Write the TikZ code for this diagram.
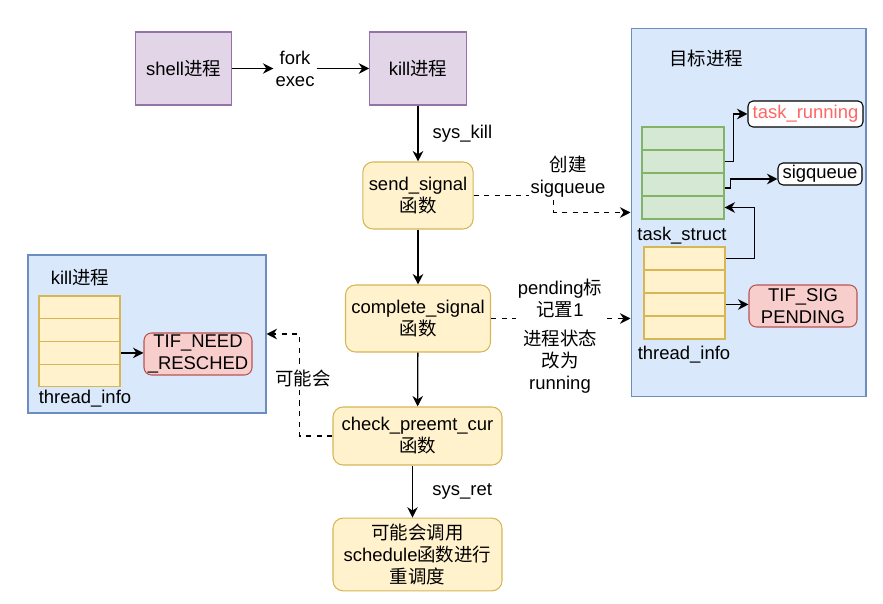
\documentclass[tikz,border=0pt]{standalone}
\usepackage{fontspec}
\setmainfont{Liberation Sans}
\newfontfamily\cjkfont{Noto Sans CJK SC}
\newcommand{\zhtxt}[1]{{\cjkfont #1}}
\usepackage{xcolor}
\definecolor{procfill}{HTML}{E1D5E7}
\definecolor{procline}{HTML}{9673A6}
\definecolor{funcfill}{HTML}{FFF2CC}
\definecolor{funcline}{HTML}{D6B656}
\definecolor{groupfill}{HTML}{DAE8FC}
\definecolor{groupline}{HTML}{6C8EBF}
\definecolor{tsfill}{HTML}{D5E8D4}
\definecolor{tsline}{HTML}{82B366}
\definecolor{flagfill}{HTML}{F8CECC}
\definecolor{flagline}{HTML}{B85450}
\definecolor{runred}{HTML}{FF6666}
\usepackage{tikz}
\usetikzlibrary{positioning,arrows.meta}

\begin{document}
\begin{tikzpicture}[
    x=0.02cm, y=-0.02cm,
    font=\fontsize{10.5}{12.5}\selectfont,
    proc/.style={draw=procline, fill=procfill, minimum width=1.93cm,
                 minimum height=1.46cm, align=center, line width=0.6pt},
    func/.style={draw=funcline, fill=funcfill, rounded corners=2mm,
                 align=center, line width=0.6pt},
    group/.style={draw=groupline, fill=groupfill, line width=0.6pt},
    tscell/.style={draw=tsline, fill=tsfill, minimum width=1.64cm,
                   minimum height=0.46cm, line width=0.6pt},
    ticell/.style={draw=funcline, fill=funcfill, minimum width=1.62cm,
                   minimum height=0.46cm, line width=0.6pt},
    flag/.style={draw=flagline, fill=flagfill, rounded corners=1.5mm,
                 minimum width=2.16cm, minimum height=0.84cm, align=center,
                 line width=0.6pt, inner sep=1pt},
    tag/.style={draw, fill=white, rounded corners=1mm, line width=0.6pt,
                inner sep=1pt},
    lbl/.style={align=center, inner sep=1pt},
    elbl/.style={align=center, fill=white, inner sep=1pt},
    flow/.style={-{Stealth[length=2.1mm, width=2.1mm]}, line width=0.75pt},
    dflow/.style={flow, dashed}]
  \useasboundingbox (0,0) rectangle (883,604);

  % main column
  \node[proc] (shell) at (183.5,68.5) {shell\zhtxt{进程}};
  \node[proc] (kill) at (418,68.5) {kill\zhtxt{进程}};
  \node[lbl] (forkexec) at (295,68.5) {fork\\exec};
  \node[func, minimum width=2.12cm, minimum height=1.34cm] (send)
    at (418,195.5) {send\_signal\\\zhtxt{函数}};
  \node[func, minimum width=2.84cm, minimum height=1.34cm] (complete)
    at (418,318.5) {complete\_signal\\\zhtxt{函数}};
  \node[func, minimum width=3.38cm, minimum height=1.16cm] (check)
    at (417.5,436) {check\_preemt\_cur\\\zhtxt{函数}};
  \node[func, minimum width=3.38cm, minimum height=1.3cm] (sched)
    at (417.5,554.5) {\zhtxt{可能会调用}\\schedule\zhtxt{函数进行}\\\zhtxt{重调度}};

  \draw[flow] (shell) -- (forkexec);
  \draw[flow] (forkexec) -- (kill);
  \draw[flow] (kill) -- node[right=7pt, lbl]{sys\_kill} (send);
  \draw[flow] (send) -- (complete);
  \draw[flow] (complete) -- (check);
  \draw[flow] ([xshift=-0.1cm]check.south) -- node[right=10pt, lbl]{sys\_ret}
    ([xshift=-0.1cm]sched.north);

  % target process
  \node[group, minimum width=4.7cm, minimum height=7.38cm] (target)
    at (748.5,212.5) {};
  \node[lbl] (targettitle) at (706,58) {\zhtxt{目标进程}};
  \foreach \i/\yy in {1/138.5,2/161.5,3/184.5,4/207.5}
    \node[tscell] (ts\i) at (683,\yy) {};
  \node[lbl] (tslabel) at (682,236) {task\_struct};
  \foreach \i/\yy in {1/258.5,2/281.5,3/304.5,4/327.5}
    \node[ticell] (ti\i) at (684.5,\yy) {};
  \node[lbl] (tilabel) at (684,355) {thread\_info};
  \node[tag, minimum width=2.3cm, minimum height=0.52cm, text=runred]
    (taskrun) at (805.5,114) {task\_running};
  \node[tag, minimum width=1.68cm, minimum height=0.44cm] (sigq)
    at (820,174) {sigqueue};
  \node[flag] (tifsig) at (803,306) {TIF\_SIG\\PENDING};

  \draw[flow] (ts2.east) -- ++(9,0) |- (taskrun.west);
  \draw[flow] ([yshift=-0.07cm]ts3.east) -- ++(6,0)
    |- ([yshift=-0.1cm]sigq.west);
  \draw[flow] (ti1.east) -- ++(29,0) |- (ts4.east);
  \draw[flow] (ti3.east) -- (ti3.east -| tifsig.west);

  % kill process
  \node[group, minimum width=4.76cm, minimum height=3.16cm] (killbox)
    at (147,334) {};
  \node[lbl] (killtitle) at (80,278) {kill\zhtxt{进程}};
  \foreach \i/\yy in {1/307.4,2/330.1,3/352.9,4/375.6}
    \node[ticell, minimum height=0.455cm] (kti\i) at (79.5,\yy) {};
  \node[lbl] (ktilabel) at (85,399) {thread\_info};
  \node[flag] (tifneed) at (198,354) {TIF\_NEED\\\_RESCHED};
  \draw[flow] (kti3.east) -- (kti3.east -| tifneed.west);

  % dashed connectors
  \draw[dflow] (send.east) -- ++(80,0) |- (target.west);
  \node[elbl] (createlbl) at (568,177) {\zhtxt{创建}\\sigqueue};
  \draw[dflow] (complete.east) -- (complete.east -| target.west);
  \node[elbl] (pendlbl) at (560,298) {pending\zhtxt{标}\\\zhtxt{记置}1};
  \node[elbl] (runlbl) at (560,362) {\zhtxt{进程状态}\\\zhtxt{改为}\\running};
  \draw[dflow] (check.west) -- ++(-33,0) |- (killbox.east);
  \node[elbl] (maylbl) at (303,378) {\zhtxt{可能会}};
\end{tikzpicture}
\end{document}
